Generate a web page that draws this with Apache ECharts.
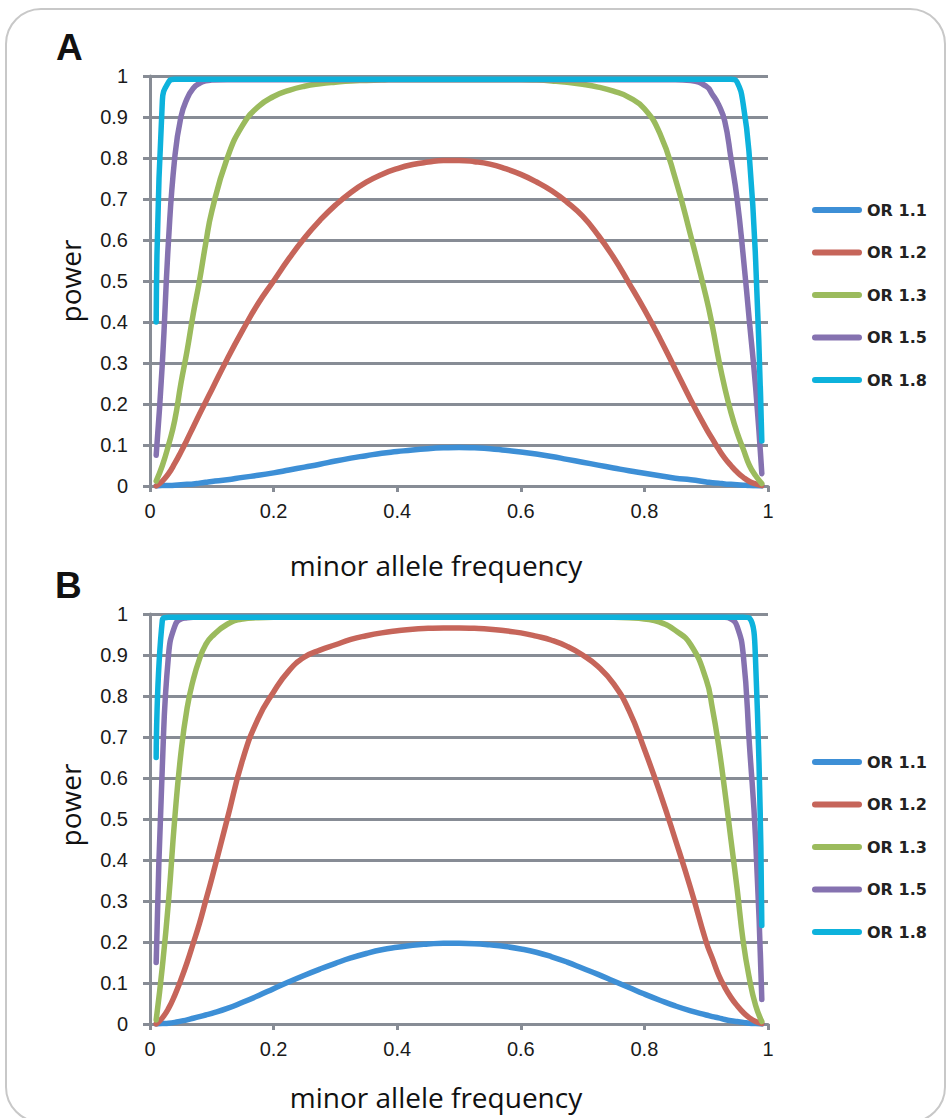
<!DOCTYPE html>
<html>
<head>
<meta charset="utf-8">
<script src="https://cdn.jsdelivr.net/npm/echarts@6/dist/echarts.min.js"></script>
<style>
html,body{margin:0;padding:0;background:#fff;}
#chart{width:948px;height:1118px;}
</style>
</head>
<body>
<div id="chart"></div>
<script>
// minor allele frequency sample points (shared by all curves)
const maf = [0.01,0.02,0.03,0.04,0.05,0.06,0.07,0.08,0.09,0.1,
  0.125,0.15,0.175,0.2,0.225,0.25,0.275,0.3,0.325,0.35,0.375,0.4,0.425,0.45,0.475,0.5,0.525,0.55,0.575,0.6,0.625,0.65,0.675,0.7,0.725,0.75,0.775,0.8,0.825,0.85,0.875,
  0.9,0.91,0.92,0.93,0.94,0.95,0.96,0.97,0.98,0.99];

// Panel A power values
const a_or11 = [0,0.001,0.001,0.002,0.003,0.004,0.005,0.007,0.009,0.011,
  0.015,0.021,0.026,0.032,0.039,0.046,0.053,0.061,0.068,0.074,0.080,0.084,0.088,0.091,0.093,0.094,0.093,0.091,0.087,0.083,0.078,0.072,0.065,0.058,0.051,0.044,0.037,0.031,0.025,0.019,0.015,
  0.010,0.008,0.007,0.005,0.004,0.003,0.002,0.001,0.0005,0];
const a_or12 = [0,0.012,0.03,0.055,0.083,0.113,0.144,0.175,0.205,0.235,
  0.31,0.38,0.445,0.50,0.555,0.605,0.648,0.685,0.716,0.741,0.760,0.774,0.784,0.790,0.794,0.794,0.791,0.785,0.774,0.760,0.742,0.720,0.692,0.658,0.612,0.558,0.495,0.43,0.36,0.285,0.21,
  0.14,0.115,0.09,0.068,0.05,0.034,0.021,0.011,0.005,0.001];
const a_or13 = [0.012,0.05,0.10,0.16,0.25,0.33,0.42,0.50,0.59,0.67,
  0.80,0.88,0.925,0.950,0.965,0.975,0.981,0.985,0.988,0.989,0.990,0.991,0.991,0.991,0.991,0.991,0.991,0.991,0.991,0.991,0.990,0.988,0.985,0.980,0.973,0.963,0.948,0.92,0.86,0.75,0.61,
  0.46,0.39,0.31,0.24,0.18,0.13,0.09,0.05,0.025,0.006];
const a_or15 = [0.075,0.30,0.60,0.80,0.90,0.945,0.97,0.982,0.988,0.99,
  0.991,0.991,0.991,0.991,0.991,0.991,0.991,0.991,0.991,0.991,0.991,0.991,0.991,0.991,0.991,0.991,0.991,0.991,0.991,0.991,0.991,0.991,0.991,0.991,0.991,0.991,0.991,0.991,0.991,0.991,0.989,
  0.975,0.955,0.93,0.89,0.80,0.70,0.56,0.40,0.24,0.03];
const a_or18 = [0.40,0.94,0.985,0.992,0.992,0.992,0.992,0.992,0.992,0.992,
  0.992,0.992,0.992,0.992,0.992,0.992,0.992,0.992,0.992,0.992,0.992,0.992,0.992,0.992,0.992,0.992,0.992,0.992,0.992,0.992,0.992,0.992,0.992,0.992,0.992,0.992,0.992,0.992,0.992,0.992,0.992,
  0.992,0.992,0.992,0.992,0.992,0.985,0.93,0.80,0.55,0.11];

// Panel B power values
const b_or11 = [0,0.001,0.002,0.004,0.007,0.010,0.014,0.018,0.022,0.026,
  0.038,0.053,0.069,0.086,0.103,0.119,0.134,0.148,0.161,0.172,0.181,0.187,0.192,0.195,0.197,0.197,0.196,0.193,0.189,0.183,0.175,0.164,0.151,0.136,0.121,0.105,0.089,0.073,0.058,0.044,0.032,
  0.022,0.018,0.015,0.011,0.008,0.006,0.004,0.002,0.001,0];
const b_or12 = [0,0.015,0.038,0.07,0.108,0.15,0.197,0.245,0.30,0.355,
  0.50,0.645,0.745,0.81,0.862,0.895,0.912,0.925,0.938,0.947,0.954,0.959,0.963,0.965,0.966,0.966,0.965,0.963,0.959,0.954,0.946,0.936,0.921,0.90,0.872,0.83,0.765,0.67,0.565,0.45,0.33,
  0.20,0.16,0.12,0.09,0.065,0.045,0.028,0.015,0.006,0.001];
const b_or13 = [0.01,0.14,0.30,0.50,0.66,0.77,0.84,0.89,0.925,0.945,
  0.975,0.988,0.991,0.992,0.992,0.992,0.992,0.992,0.992,0.992,0.992,0.992,0.992,0.992,0.992,0.992,0.992,0.992,0.992,0.992,0.992,0.992,0.992,0.992,0.992,0.992,0.991,0.988,0.98,0.96,0.925,
  0.84,0.77,0.68,0.57,0.45,0.33,0.20,0.11,0.045,0.006];
const b_or15 = [0.15,0.63,0.90,0.97,0.988,0.991,0.992,0.992,0.992,0.992,
  0.992,0.992,0.992,0.992,0.992,0.992,0.992,0.992,0.992,0.992,0.992,0.992,0.992,0.992,0.992,0.992,0.992,0.992,0.992,0.992,0.992,0.992,0.992,0.992,0.992,0.992,0.992,0.992,0.992,0.992,0.992,
  0.992,0.992,0.992,0.992,0.988,0.97,0.90,0.68,0.45,0.06];
const b_or18 = [0.65,0.985,0.992,0.992,0.992,0.992,0.992,0.992,0.992,0.992,
  0.992,0.992,0.992,0.992,0.992,0.992,0.992,0.992,0.992,0.992,0.992,0.992,0.992,0.992,0.992,0.992,0.992,0.992,0.992,0.992,0.992,0.992,0.992,0.992,0.992,0.992,0.992,0.992,0.992,0.992,0.992,
  0.992,0.992,0.992,0.992,0.992,0.992,0.992,0.99,0.88,0.24];

const names = ['OR 1.1','OR 1.2','OR 1.3','OR 1.5','OR 1.8'];
const colors = ['#3d8fd6','#c6655a','#9bbb5d','#8572b0','#0db2dc'];
const xTicks = ['0','0.2','0.4','0.6','0.8','1'];

const panelA = [a_or11,a_or12,a_or13,a_or15,a_or18];
const panelB = [b_or11,b_or12,b_or13,b_or15,b_or18];

const grey = '#878c95';
const txt = '#1a1a1a';

function pts(arr){ return maf.map((x,i)=>[x,arr[i]]); }

function xAxis(gi){
  return {
    gridIndex: gi, type:'value', min:0, max:1, interval:0.2,
    axisLine:{show:true,lineStyle:{color:grey,width:3}},
    axisTick:{show:true,length:6,lineStyle:{color:grey,width:3}},
    splitLine:{show:false},
    axisLabel:{margin:15,fontSize:20,color:txt,fontFamily:'Liberation Sans, Arial, sans-serif',
      formatter:(v)=>xTicks[Math.round(v*5)]}
  };
}
function yAxis(gi){
  return {
    gridIndex: gi, type:'value', min:0, max:1, interval:0.1,
    axisLine:{show:true,lineStyle:{color:grey,width:3}},
    axisTick:{show:true,length:7,lineStyle:{color:grey,width:3}},
    splitLine:{show:true,lineStyle:{color:grey,width:3}},
    axisLabel:{margin:22,fontSize:20,color:txt,fontFamily:'Liberation Sans, Arial, sans-serif'}
  };
}

const series = [];
[panelA,panelB].forEach((panel,gi)=>{
  panel.forEach((arr,k)=>{
    series.push({
      name:names[k], type:'line', xAxisIndex:gi, yAxisIndex:gi,
      data:pts(arr), symbol:'none', smooth:0.5,
      lineStyle:{color:colors[k],width:5.5,cap:'round',join:'round'},
      itemStyle:{color:colors[k]}
    });
  });
});

const capsule = 'path://M3,0H47A3,3,0,0,1,47,6H3A3,3,0,0,1,3,0Z';
function legend(top){
  return {
    data:names, orient:'vertical', left:807, top:top,
    icon:capsule, itemWidth:50, itemHeight:6, itemGap:26.5,
    selectedMode:false,
    textStyle:{fontSize:16,fontWeight:'bold',color:'#222',fontFamily:'DejaVu Sans, sans-serif',lineHeight:15}
  };
}

const titleFont = '28px "Open Sans", "Noto Sans", sans-serif';
const option = {
  backgroundColor:'#fff',
  animation:false,
  grid:[
    {left:150,top:76,width:618,height:410,containLabel:false},
    {left:150,top:614,width:618,height:410,containLabel:false}
  ],
  xAxis:[xAxis(0),xAxis(1)],
  yAxis:[yAxis(0),yAxis(1)],
  legend:[legend(197),legend(749)],
  series:series,
  graphic:[
    {type:'rect',shape:{x:6,y:9,width:939,height:1113,r:35},style:{fill:'none',stroke:'#c8c8c8',lineWidth:2},silent:true,z:-10},
    {type:'text',left:56,top:29,style:{text:'A',font:'bold 37px "Liberation Sans", Arial, sans-serif',fill:'#111'}},
    {type:'text',left:55,top:567,style:{text:'B',font:'bold 37px "Liberation Sans", Arial, sans-serif',fill:'#111'}},
    {type:'text',x:70,y:281,rotation:Math.PI/2,style:{text:'power',font:titleFont,fill:'#111',align:'center',verticalAlign:'middle'}},
    {type:'text',x:70,y:805,rotation:Math.PI/2,style:{text:'power',font:titleFont,fill:'#111',align:'center',verticalAlign:'middle'}},
    {type:'text',x:436,y:565,style:{text:'minor allele frequency',font:titleFont,fill:'#111',align:'center',verticalAlign:'middle'}},
    {type:'text',x:436,y:1097,style:{text:'minor allele frequency',font:titleFont,fill:'#111',align:'center',verticalAlign:'middle'}}
  ]
};

const chart = echarts.init(document.getElementById('chart'),null,{renderer:'svg',width:948,height:1118});
chart.setOption(option);
</script>
</body>
</html>
